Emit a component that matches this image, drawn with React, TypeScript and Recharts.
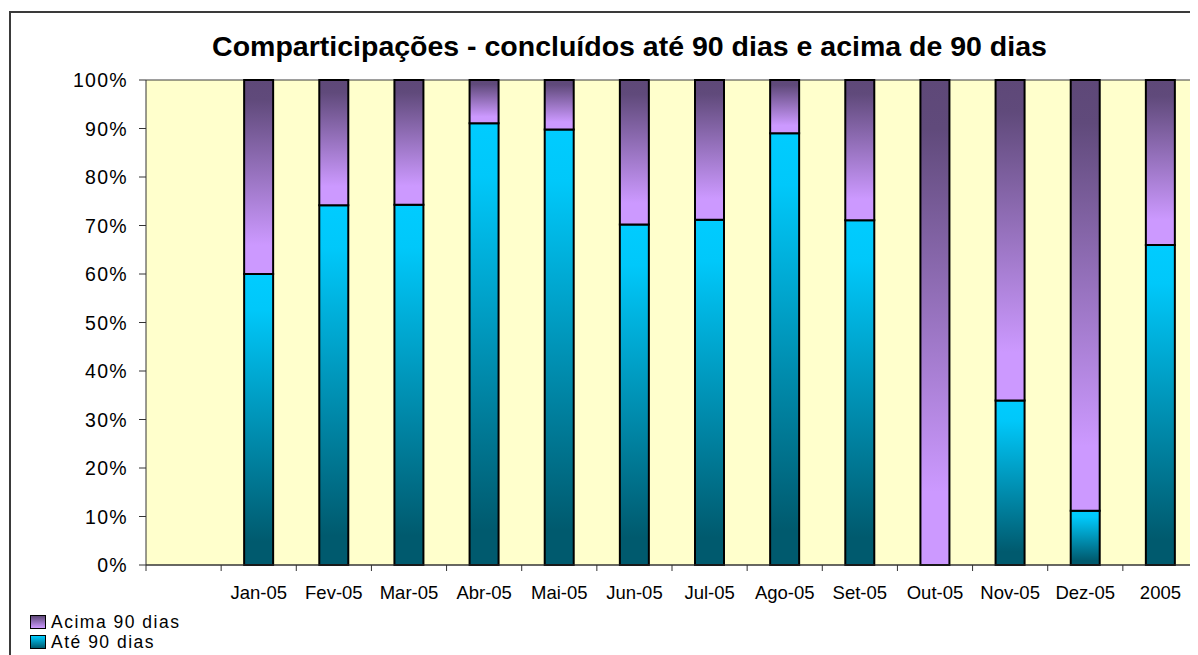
import React from 'react';
import { BarChart, Bar, XAxis, YAxis, CartesianGrid, Legend } from 'recharts';

const categories = ['', 'Jan-05', 'Fev-05', 'Mar-05', 'Abr-05', 'Mai-05', 'Jun-05', 'Jul-05', 'Ago-05', 'Set-05', 'Out-05', 'Nov-05', 'Dez-05', '2005'];
const ateValues = [null, 60.0, 74.2, 74.3, 91.1, 89.8, 70.2, 71.2, 89.0, 71.1, 0, 33.9, 11.2, 66.0];
const acimaValues = [null, 40.0, 25.8, 25.7, 8.9, 10.2, 29.8, 28.8, 11.0, 28.9, 100, 66.1, 88.8, 34.0];
const yTicks = [0, 10, 20, 30, 40, 50, 60, 70, 80, 90, 100];
const gridTicks = [10, 20, 30, 40, 50, 60, 70, 80, 90];
const seriesNames = { ate: 'Até 90 dias', acima: 'Acima 90 dias' };
const title = 'Comparticipações - concluídos até 90 dias e acima de 90 dias';

const data = categories.map((c, i) => ({ name: c, ate: ateValues[i], acima: acimaValues[i] }));

const W = 1190;
const H = 647;
const MARGIN = { top: 72, right: 0, left: 78, bottom: 60 };
const Y_W = 60;
const BAND = (W - MARGIN.left - Y_W - MARGIN.right) / categories.length;
const FONT = "'Liberation Sans', Arial, Helvetica, sans-serif";

const XTick = (props: any) => {
  const { x, y, payload } = props;
  return (
    <g>
      <line x1={x - BAND / 2} x2={x - BAND / 2} y1={y} y2={y + 6} stroke="#333" strokeWidth={1} />
      <text x={x} y={y + 34} textAnchor="middle" fontSize={18.5} fontFamily={FONT} fill="#000">
        {payload.value}
      </text>
    </g>
  );
};

const YTick = (props: any) => {
  const { x, y, payload } = props;
  return (
    <text x={x} y={y} dy={7} textAnchor="end" fontSize={19.5} letterSpacing={1.3} fontFamily={FONT} fill="#000">
      {payload.value}%
    </text>
  );
};

const swatch: Record<string, string> = {
  acima: 'linear-gradient(to bottom, #5E4878, #CC99FF)',
  ate: 'linear-gradient(to bottom, #00CCFF, #005A6E)',
};

const LegendContent = () => {
  const order: Array<'acima' | 'ate'> = ['acima', 'ate'];
  return (
    <div style={{ fontFamily: FONT, fontSize: 17.5, letterSpacing: 1.5, color: '#000' }}>
      {order.map((k) => (
        <div key={k} style={{ display: 'flex', alignItems: 'center', height: 20, lineHeight: '20px', whiteSpace: 'nowrap' }}>
          <span
            style={{
              display: 'inline-block',
              boxSizing: 'border-box',
              width: 16,
              height: 14,
              border: '1.5px solid #000',
              background: swatch[k],
              marginRight: 5,
            }}
          />
          <span>{seriesNames[k]}</span>
        </div>
      ))}
    </div>
  );
};

export default function App() {
  return (
    <div style={{ position: 'relative', width: W, height: H, overflow: 'hidden', background: '#fff' }}>
      <div
        style={{
          position: 'absolute',
          left: 1,
          top: 3,
          width: W + 20,
          height: H + 20,
          borderLeft: '2px solid #3a3a3a',
          borderTop: '2px solid #3a3a3a',
          boxSizing: 'border-box',
        }}
      />
      <div
        style={{
          position: 'absolute',
          left: 621.5,
          top: 22,
          transform: 'translateX(-50%)',
          whiteSpace: 'nowrap',
          fontFamily: FONT,
          fontWeight: 'bold',
          fontSize: 28.5,
          color: '#000',
          zIndex: 2,
        }}
      >
        {title}
      </div>
      <div style={{ position: 'absolute', left: 0, top: 0 }}>
        <BarChart width={W} height={H} data={data} margin={MARGIN} barSize={29}>
          <defs>
            <linearGradient id="gPurple" x1="0" y1="0" x2="0" y2="1">
              <stop offset="0" stopColor="#5E4878" />
              <stop offset="0.1" stopColor="#604A7B" />
              <stop offset="0.85" stopColor="#CC99FF" />
              <stop offset="1" stopColor="#CC99FF" />
            </linearGradient>
            <linearGradient id="gCyan" x1="0" y1="0" x2="0" y2="1">
              <stop offset="0" stopColor="#00CCFF" />
              <stop offset="0.12" stopColor="#00C8FA" />
              <stop offset="0.92" stopColor="#005A6E" />
              <stop offset="1" stopColor="#005A6E" />
            </linearGradient>
          </defs>
          <CartesianGrid yAxisId="grid" vertical={false} stroke="#3c3c3c" strokeWidth={1} fill="#FFFFCC" />
          <XAxis
            dataKey="name"
            interval={0}
            tick={<XTick />}
            tickLine={false}
            tickSize={0}
            tickMargin={0}
            height={30}
            axisLine={{ stroke: '#333', strokeWidth: 1 }}
          />
          <YAxis
            domain={[0, 100]}
            ticks={yTicks}
            interval={0}
            width={Y_W}
            tick={<YTick />}
            tickSize={7}
            tickMargin={11}
            tickLine={{ stroke: '#333' }}
            axisLine={{ stroke: '#333', strokeWidth: 1 }}
          />
          <YAxis yAxisId="grid" hide domain={[0, 100]} ticks={gridTicks} />
          <Legend
            layout="vertical"
            align="center"
            verticalAlign="middle"
            content={<LegendContent />}
            wrapperStyle={{ left: 22, top: 604, width: 'auto', height: 'auto' }}
          />
          <Bar dataKey="ate" name={seriesNames.ate} stackId="a" fill="url(#gCyan)" stroke="#000" strokeWidth={2} isAnimationActive={false} />
          <Bar dataKey="acima" name={seriesNames.acima} stackId="a" fill="url(#gPurple)" stroke="#000" strokeWidth={2} isAnimationActive={false} />
        </BarChart>
      </div>
    </div>
  );
}
